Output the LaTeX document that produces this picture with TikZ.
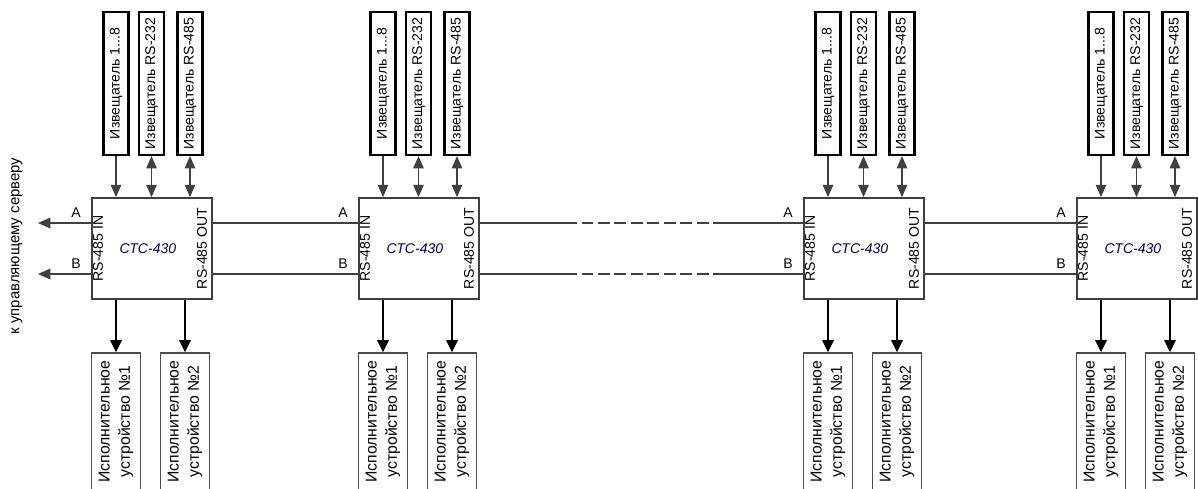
\documentclass[tikz,border=0pt]{standalone}
\usepackage{fontspec}
\setmainfont{Liberation Sans}
\usetikzlibrary{arrows.meta,calc,positioning}

\tikzset{
  module/.style={draw=black!75, line width=1.1pt, minimum width=2.4cm,
    minimum height=2.02cm, inner sep=0pt},
  sensor/.style={draw=black, line width=1.3pt, rotate=90, minimum width=2.86cm,
    minimum height=0.5cm, inner sep=0pt, font=\fontsize{8}{9}\selectfont},
  device/.style={draw=black!70, line width=0.8pt, rotate=90, minimum width=2.74cm,
    minimum height=0.98cm, inner sep=0pt, align=center,
    font=\fontsize{9}{11.5}\selectfont},
  port/.style={rotate=90, inner sep=0pt, font=\fontsize{8}{9}\selectfont},
  wire/.style={draw=black!75, line width=0.9pt},
  sig/.style={draw=black!75, line width=0.7pt, -{Triangle[length=7pt,width=6pt]}},
  duplex/.style={draw=black!75, line width=0.7pt,
    {Triangle[length=7pt,width=6pt]}-{Triangle[length=7pt,width=6pt]}},
  act/.style={draw=black, line width=1.1pt, -{Triangle[length=7pt,width=6.5pt]}},
}

\begin{document}
\begin{tikzpicture}[x=0.02cm, y=-0.02cm]
  \useasboundingbox (0,0) rectangle (1198,488);

  % one controller with its sensors and actuators per left edge \L
  \foreach \i/\L in {1/92, 2/359, 3/804, 4/1077}{
    \node[module] (m\i) at (\L+60,248.5) {};
    \node[font=\fontsize{8}{9}\selectfont\itshape, text=blue!35!black] (n\i)
      at ($(m\i)+(-4,0)$) {СТС-430};
    \node[port] (pin\i) at ($(m\i.west)+(7,0)$) {RS-485 IN};
    \node[port] (pout\i) at ($(m\i.east)+(-11,0)$) {RS-485 OUT};

    % bus taps
    \coordinate (ina\i) at ($(m\i.west)+(0,-25.5)$);
    \coordinate (inb\i) at ($(m\i.west)+(0,25.5)$);
    \coordinate (outa\i) at ($(m\i.east)+(0,-25.5)$);
    \coordinate (outb\i) at ($(m\i.east)+(0,25.5)$);
    \node[font=\fontsize{8}{9}\selectfont] (la\i) at ($(ina\i)+(-15,-10)$) {A};
    \node[font=\fontsize{8}{9}\selectfont] (lb\i) at ($(inb\i)+(-15,-10)$) {B};

    % sensors
    \node[sensor] (sa\i) at (\L+24,83.5) {Извещатель 1...8};
    \node[sensor] (sb\i) at (\L+59.5,83.5) {Извещатель RS-232};
    \node[sensor] (sc\i) at (\L+98,83.5) {Извещатель RS-485};
    \draw[sig] (sa\i.west) -- (sa\i.west |- m\i.north);
    \draw[duplex] (sb\i.west) -- (sb\i.west |- m\i.north);
    \draw[duplex] (sc\i.west) -- (sc\i.west |- m\i.north);

    % actuators
    \node[device] (da\i) at (\L+24,421.5) {Исполнительное\\устройство №1};
    \node[device] (db\i) at (\L+93,421.5) {Исполнительное\\устройство №2};
    \draw[act] (da\i.east |- m\i.south) -- (da\i.east);
    \draw[act] (db\i.east |- m\i.south) -- (db\i.east);
  }

  % towards the server
  \coordinate (srva) at (38,223);
  \coordinate (srvb) at (38,274);
  \draw[sig, line width=0.9pt] (ina1) -- (srva);
  \draw[sig, line width=0.9pt] (inb1) -- (srvb);
  \node[rotate=90, font=\fontsize{8.5}{10}\selectfont] (srv) at (17,246)
    {к управляющему серверу};

  % bus between controllers
  \draw[wire] (outa1) -- (ina2);
  \draw[wire] (outb1) -- (inb2);
  \draw[wire] (outa3) -- (ina4);
  \draw[wire] (outb3) -- (inb4);

  % broken bus 2 -> 3
  \coordinate (ga1) at (565,223);
  \coordinate (ga2) at (717,223);
  \coordinate (gb1) at (565,274);
  \coordinate (gb2) at (717,274);
  \draw[wire] (outa2) -- (ga1);
  \draw[wire] (outb2) -- (gb1);
  \draw[wire, dash pattern=on 0.24cm off 0.09cm] (ga1) -- (ga2);
  \draw[wire, dash pattern=on 0.24cm off 0.09cm] (gb1) -- (gb2);
  \draw[wire] (ga2) -- (ina3);
  \draw[wire] (gb2) -- (inb3);
\end{tikzpicture}
\end{document}
